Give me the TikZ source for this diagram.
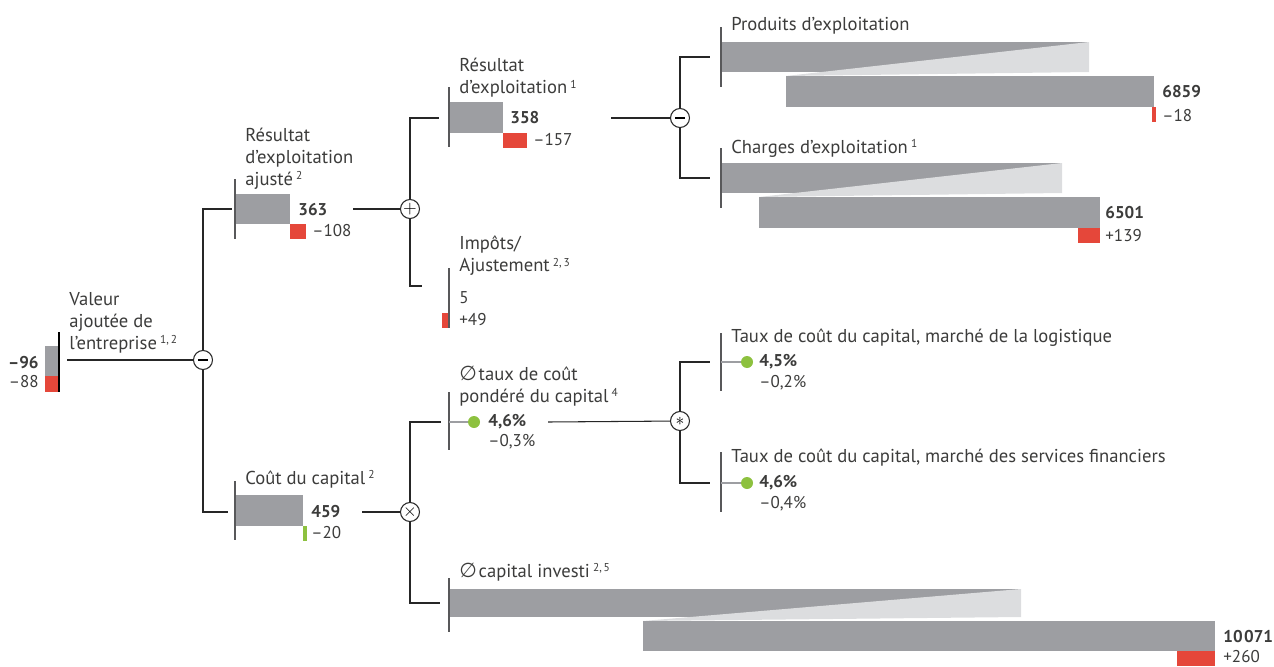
\documentclass[tikz,border=0pt]{standalone}
\usepackage{fontspec}
\setmainfont{PT Sans}
\newfontfamily\symfont{DejaVu Sans}
\definecolor{bargrey}{HTML}{9D9EA2}
\definecolor{lightgrey}{HTML}{DCDDDF}
\definecolor{accred}{HTML}{E5473A}
\definecolor{accgreen}{HTML}{8DC13F}
\definecolor{linegrey}{HTML}{58585A}
\definecolor{textgrey}{HTML}{3C3C3B}
\tikzstyle{opnode} = [circle, draw=black!85, fill=white, line width=0.6pt, minimum size=0.38cm, inner sep=0pt]
\tikzstyle{link} = [line width=0.6pt, draw=black!85]
\tikzstyle{axisline} = [line width=0.6pt, draw=linegrey]
\tikzstyle{itemtext} = [anchor=north west, inner sep=0pt, align=left, text=textgrey, font=\fontsize{10.6}{12.5}\selectfont]
\tikzstyle{valtxt} = [anchor=west, inner sep=0pt, text=textgrey, font=\fontsize{9.7}{12}\selectfont\bfseries]
\tikzstyle{deltatxt} = [anchor=west, inner sep=0pt, text=textgrey, font=\fontsize{9.7}{12}\selectfont]
\tikzstyle{stem} = [line width=1.6pt, draw=bargrey]
\tikzstyle{dot} = [circle, fill=accgreen, minimum size=0.24cm, inner sep=0pt]
\newcommand{\fnote}[1]{\,{\fontsize{6.5}{6.5}\selectfont\raisebox{0.5em}{#1}}}
\newcommand{\avg}{{\symfont\fontsize{11.5}{12}\selectfont ∅}\kern1pt}
\begin{document}
\begin{tikzpicture}[x=0.02cm, y=-0.02cm]
		\useasboundingbox (0,0) rectangle (1274,666);
		% operators
		\node (opA) [opnode] at (203,360) {\rule{5.5pt}{1.6pt}};
		\node (opB) [opnode] at (410,209) {$+$};
		\node (opC) [opnode] at (410,512) {$\times$};
		\node (opD) [opnode] at (680,118) {\rule{5.5pt}{1.6pt}};
		\node (opE) [opnode] at (680,421) {$*$};
		% connector ends
		\coordinate (root-out) at (67,360);
		\coordinate (ajuste-in) at (232,209);
		\coordinate (ajuste-out) at (353,209);
		\coordinate (cout-in) at (228,512);
		\coordinate (cout-out) at (362,512);
		\coordinate (res-in) at (439,118);
		\coordinate (res-out) at (611,118);
		\coordinate (impots-in) at (422,286);
		\coordinate (wacc-in) at (441,422);
		\coordinate (wacc-out) at (548,422);
		\coordinate (capital-in) at (440,603);
		\coordinate (produits-in) at (710,57);
		\coordinate (charges-in) at (710,178);
		\coordinate (logist-in) at (710,362);
		\coordinate (finserv-in) at (710,483);

		% root: valeur ajoutee
		\fill[bargrey] (45,346) rectangle (59,376);
		\fill[accred] (45,376) rectangle (59,392);
		\draw[axisline, draw=black] (59,332) -- (59,392);
		\node (root) [itemtext] at (69,292) {Valeur\\ajoutée de\\l’entreprise\fnote{1,\,2}};
		\node (rootval) [valtxt, anchor=east] at (39,363) {–96};
		\node (rootdelta) [deltatxt, anchor=east] at (39,382) {–88};

		% resultat ajuste
		\fill[bargrey] (235,194) rectangle (290,224);
		\fill[accred] (290,224) rectangle (306,239);
		\draw[axisline] (235,179) -- (235,239);
		\node (ajuste) [itemtext] at (245,128) {Résultat\\d’exploitation\\ajusté\fnote{2}};
		\node (ajusteval) [valtxt] at (298,210) {363};
		\node (ajustedelta) [deltatxt] at (312,231) {–108};

		% resultat d'exploitation
		\fill[bargrey] (449,102) rectangle (503,133);
		\fill[accred] (503,133) rectangle (527,148);
		\draw[axisline] (449,87) -- (449,147);
		\node (res) [itemtext] at (459,58) {Résultat\\d’exploitation\fnote{1}};
		\node (resval) [valtxt] at (510,118) {358};
		\node (resdelta) [deltatxt] at (533,140) {–157};

		% impots
		\fill[accred] (442,313) rectangle (449,328);
		\draw[axisline] (449,268) -- (449,328);
		\node (impots) [itemtext] at (459,236) {Impôts/\\Ajustement\fnote{2,\,3}};
		\node (impotsval) [deltatxt] at (459,298) {5};
		\node (impotsdelta) [deltatxt] at (459,320) {+49};

		% produits d'exploitation
		\fill[bargrey] (721,42) rectangle (1089,72);
		\fill[lightgrey] (1089,42) -- (1089,72) -- (786,76) -- cycle;
		\fill[bargrey] (786,76) rectangle (1154,107);
		\fill[accred] (1152,107) rectangle (1156,122);
		\draw[axisline] (721,27) -- (721,87);
		\node (produits) [itemtext] at (731,17) {Produits d’exploitation};
		\node (produitsval) [valtxt] at (1162,92) {6859};
		\node (produitsdelta) [deltatxt] at (1162,116) {–18};

		% charges d'exploitation
		\fill[bargrey] (721,163) rectangle (1062,193);
		\fill[lightgrey] (1062,163) -- (1062,193) -- (759,197) -- cycle;
		\fill[bargrey] (759,197) rectangle (1100,228);
		\fill[accred] (1078,228) rectangle (1100,243);
		\draw[axisline] (721,148) -- (721,208);
		\node (charges) [itemtext] at (731,139) {Charges d’exploitation\fnote{1}};
		\node (chargesval) [valtxt] at (1105,213) {6501};
		\node (chargesdelta) [deltatxt] at (1105,236) {+139};

		% cout du capital
		\fill[bargrey] (235,495) rectangle (303,526);
		\fill[accgreen] (303,526) rectangle (307,541);
		\draw[axisline] (235,481) -- (235,540);
		\node (cout) [itemtext] at (245,470) {Coût du capital\fnote{2}};
		\node (coutval) [valtxt] at (311,512) {459};
		\node (coutdelta) [deltatxt] at (311,533) {–20};

		% taux moyen pondere
		\draw[axisline] (449,392) -- (449,450);
		\draw[stem] (449,422) -- (474,422);
		\node (waccdot) [dot] at (474,422) {};
		\node (wacc) [itemtext] at (459,366) {\avg taux de coût\\pondéré du capital\fnote{4}};
		\node (waccval) [valtxt] at (488,422) {4,6\%};
		\node (waccdelta) [deltatxt] at (488,442) {–0,3\%};

		% taux logistique
		\draw[axisline] (721,333) -- (721,391);
		\draw[stem] (721,362) -- (747,362);
		\node (logistdot) [dot] at (747,362) {};
		\node (logist) [itemtext] at (731,329) {Taux de coût du capital, marché de la logistique};
		\node (logistval) [valtxt] at (759,362) {4,5\%};
		\node (logistdelta) [deltatxt] at (759,383) {–0,2\%};

		% taux services financiers
		\draw[axisline] (721,452) -- (721,512);
		\draw[stem] (721,483) -- (747,483);
		\node (finservdot) [dot] at (747,483) {};
		\node (finserv) [itemtext] at (731,449) {Taux de coût du capital, marché des services financiers};
		\node (finservval) [valtxt] at (759,483) {4,6\%};
		\node (finservdelta) [deltatxt] at (759,504) {–0,4\%};

		% capital investi
		\fill[bargrey] (450,589) rectangle (1021,617);
		\fill[lightgrey] (1021,589) -- (1021,617) -- (643,621) -- cycle;
		\fill[bargrey] (643,621) rectangle (1215,651);
		\fill[accred] (1177,651) rectangle (1215,666);
		\draw[axisline] (449,578) -- (449,632);
		\node (capital) [itemtext] at (459,563) {\avg capital investi\fnote{2,\,5}};
		\node (capitalval) [valtxt] at (1223,637) {10\kern0.8pt071};
		\node (capitaldelta) [deltatxt] at (1223,657) {+260};

		% connectors
		\draw[link] (root-out) -- (opA);
		\draw[link] (opA) |- (ajuste-in);
		\draw[link] (opA) |- (cout-in);
		\draw[link] (ajuste-out) -- (opB);
		\draw[link] (opB) |- (res-in);
		\draw[link] (opB) |- (impots-in);
		\draw[link] (res-out) -- (opD);
		\draw[link] (opD) |- (produits-in);
		\draw[link] (opD) |- (charges-in);
		\draw[link] (cout-out) -- (opC);
		\draw[link] (opC) |- (wacc-in);
		\draw[link] (opC) |- (capital-in);
		\draw[link] (wacc-out) -- (opE);
		\draw[link] (opE) |- (logist-in);
		\draw[link] (opE) |- (finserv-in);
	\end{tikzpicture}
\end{document}
